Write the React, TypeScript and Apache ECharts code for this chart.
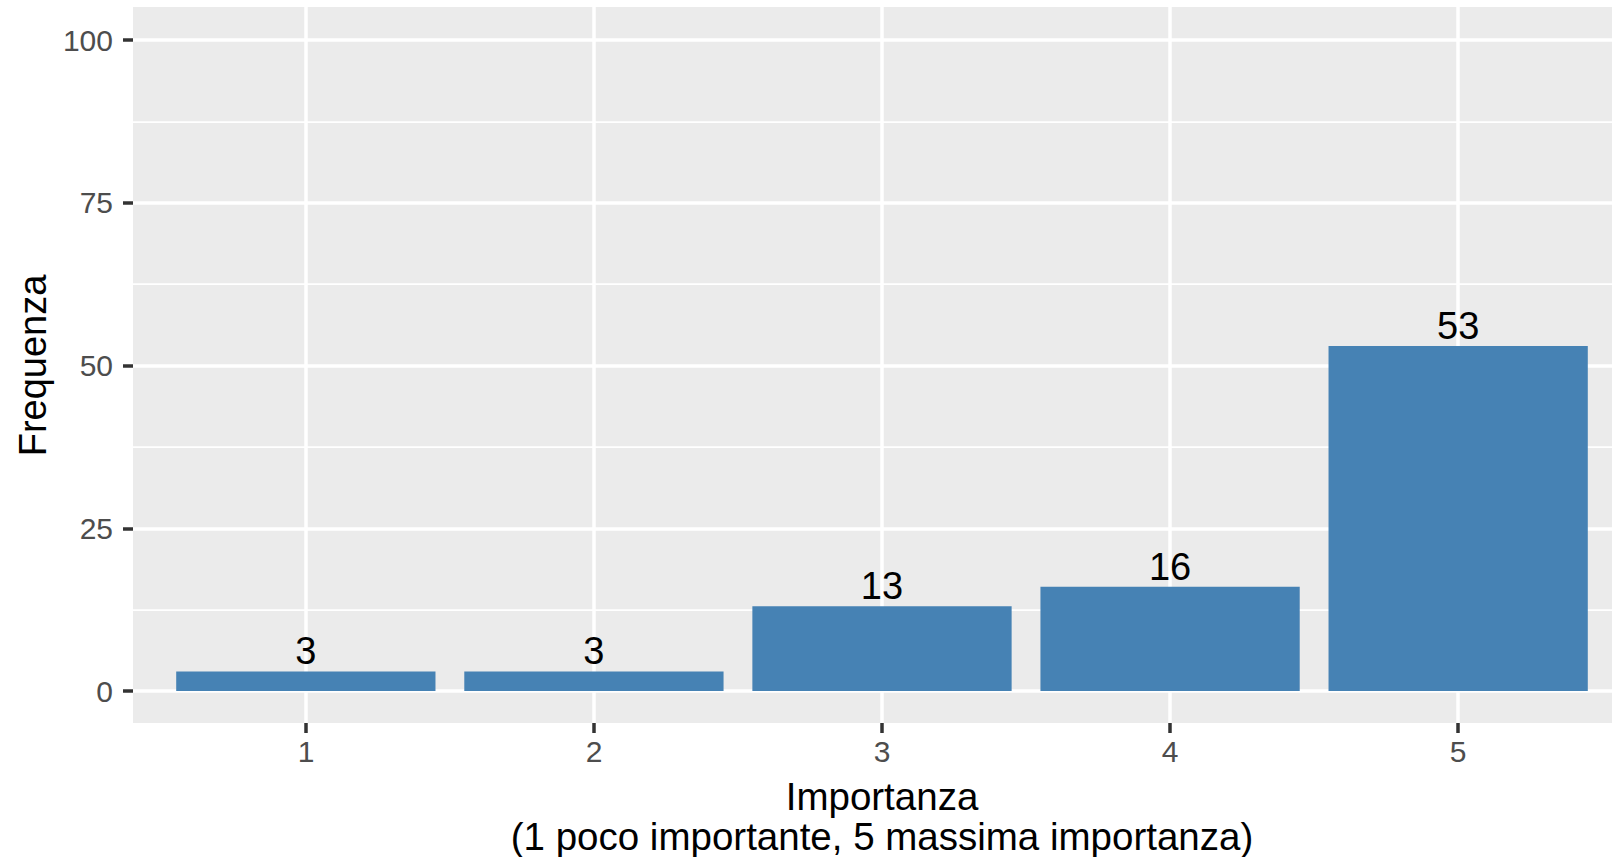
import React, { useEffect, useRef } from "react";
import * as echarts from "echarts";

const categories = ["1", "2", "3", "4", "5"];
const frequencies = [3, 3, 13, 16, 53];
const yTicks = [0, 25, 50, 75, 100];
const xTitle = "Importanza\n(1 poco importante, 5 massima importanza)";
const yTitle = "Frequenza";

const FONT = "'Liberation Sans', Arial, Helvetica, sans-serif";

export default function App() {
  const ref = useRef<HTMLDivElement>(null);
  useEffect(() => {
    document.body.style.margin = "0";
    const chart = echarts.init(ref.current!, null, { renderer: "svg" });
    const tickStyle = { color: "#333333", width: 3.5 };
    const g = { outerBoundsMode: "none", containLabel: false };
    chart.setOption({
      animation: false,
      backgroundColor: "#ffffff",
      textStyle: { fontFamily: FONT },
      grid: [
        { ...g, left: 133, right: 0, top: 7, bottom: 134, show: true, backgroundColor: "#EBEBEB", borderWidth: 0 },
        { ...g, left: 133, right: 0, top: 40, bottom: 166 },
        { ...g, left: 306, right: 154, top: 7, bottom: 134 },
        { ...g, left: 161.8, right: 9.8, top: 40, bottom: 166 },
      ],
      xAxis: [
        { gridIndex: 0, type: "value", show: false, min: 0, max: 1 },
        { gridIndex: 1, type: "value", show: false, min: 0, max: 1 },
        {
          gridIndex: 2,
          type: "value",
          min: 1,
          max: categories.length,
          interval: 1,
          axisLine: { show: false },
          axisTick: { show: true, length: 10, lineStyle: tickStyle },
          axisLabel: {
            color: "#4D4D4D",
            fontSize: 30,
            fontFamily: FONT,
            margin: 13,
            formatter: (v: number) => categories[Math.round(v) - 1] ?? "",
          },
          splitLine: { show: true, lineStyle: { color: "#ffffff", width: 3.5 } },
          name: xTitle,
          nameLocation: "middle",
          nameGap: 53,
          nameTextStyle: { color: "#000000", fontSize: 38.5, fontFamily: FONT, lineHeight: 40 },
        },
        { gridIndex: 3, type: "category", data: categories, show: false },
      ],
      yAxis: [
        { gridIndex: 0, type: "value", show: false, min: 0, max: 1 },
        {
          gridIndex: 1,
          type: "value",
          min: yTicks[0],
          max: yTicks[yTicks.length - 1],
          interval: 25,
          axisLine: { show: false },
          axisTick: { show: true, length: 10, lineStyle: tickStyle },
          axisLabel: { color: "#4D4D4D", fontSize: 30, fontFamily: FONT, margin: 20 },
          splitLine: { show: true, lineStyle: { color: "#ffffff", width: 3.5 } },
          minorTick: { show: false, splitNumber: 2 },
          minorSplitLine: { show: true, lineStyle: { color: "#ffffff", width: 1.75 } },
          name: yTitle,
          nameLocation: "middle",
          nameGap: 76,
          nameTextStyle: { color: "#000000", fontSize: 38, fontFamily: FONT },
        },
        { gridIndex: 2, type: "value", show: false, min: 0, max: 1 },
        { gridIndex: 3, type: "value", show: false, min: yTicks[0], max: yTicks[yTicks.length - 1] },
      ],
      series: [
        {
          type: "bar",
          xAxisIndex: 3,
          yAxisIndex: 3,
          data: frequencies,
          barWidth: "90%",
          itemStyle: { color: "#4682B4" },
          label: {
            show: true,
            position: "top",
            distance: 1,
            color: "#000000",
            fontSize: 38,
            fontFamily: FONT,
          },
        },
      ],
    });
    return () => chart.dispose();
  }, []);
  return <div ref={ref} style={{ width: 1612, height: 857 }} />;
}
